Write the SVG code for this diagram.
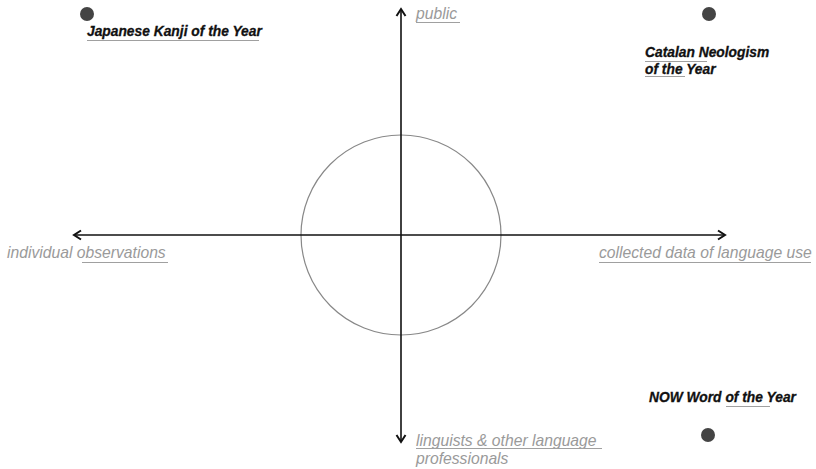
<svg xmlns="http://www.w3.org/2000/svg" width="816" height="469" viewBox="0 0 816 469">
<defs>
<marker id="arr" markerWidth="12" markerHeight="12" refX="9" refY="6" orient="auto" markerUnits="userSpaceOnUse">
<path d="M2,1.5 L9,6 L2,10.5" fill="none" stroke="#111" stroke-width="2"/>
</marker>
<pattern id="sq" width="4" height="3" patternUnits="userSpaceOnUse">
<path d="M0,2 L1,1 L2,2 L3,1 L4,2" fill="none" stroke="#a0a0a0" stroke-width="1"/>
</pattern>
</defs>
<style>
.ax{font-family:"Liberation Sans",Arial,sans-serif;font-style:italic;font-size:15.7px;fill:#9a9a9a}
.lb{font-family:"Liberation Sans",Arial,sans-serif;font-style:italic;font-weight:700;font-size:13.8px;fill:#111;stroke:#111;stroke-width:0.3}
.dot{fill:#444}
.sq{fill:url(#sq)}
</style>
<rect width="816" height="469" fill="#fff"/>
<g id="circle"><circle cx="401" cy="235" r="100" fill="none" stroke="#888" stroke-width="1.2"/></g>
<g id="connectors">
<line x1="401" y1="235" x2="401" y2="9" stroke="#111" stroke-width="1.6" marker-end="url(#arr)"/>
<line x1="401" y1="235" x2="401" y2="442" stroke="#111" stroke-width="1.6" marker-end="url(#arr)"/>
<line x1="401" y1="235" x2="74" y2="235" stroke="#111" stroke-width="1.6" marker-end="url(#arr)"/>
<line x1="401" y1="235" x2="725" y2="235" stroke="#111" stroke-width="1.6" marker-end="url(#arr)"/>
</g>
<g id="axis-public"><text class="ax" x="416" y="19">public</text><rect class="sq" x="416" y="21" width="44" height="3"/></g>
<g id="axis-individual"><text class="ax" x="7" y="258">individual observations</text><rect class="sq" x="82" y="260" width="86" height="3"/></g>
<g id="axis-collected"><text class="ax" x="599" y="258">collected data of language use</text><rect class="sq" x="599" y="260" width="212" height="3"/></g>
<g id="axis-linguists"><text class="ax" x="416" y="446">linguists &amp; other language</text><text class="ax" x="416" y="464">professionals</text><rect class="sq" x="416" y="448" width="186" height="3"/></g>
<g id="node-kanji"><circle class="dot" cx="87" cy="14" r="7"/><text class="lb" x="87" y="36">Japanese Kanji of the Year</text><rect class="sq" x="87" y="38" width="172" height="3"/></g>
<g id="node-catalan"><circle class="dot" cx="709" cy="14" r="7"/><text class="lb" x="645" y="57">Catalan Neologism</text><text class="lb" x="645" y="74">of the Year</text><rect class="sq" x="645" y="59" width="62" height="3"/><rect class="sq" x="645" y="76" width="40" height="3"/></g>
<g id="node-now"><circle class="dot" cx="708" cy="435" r="7"/><text class="lb" x="649" y="402">NOW Word of the Year</text><rect class="sq" x="726" y="404" width="44" height="3"/></g>
</svg>
